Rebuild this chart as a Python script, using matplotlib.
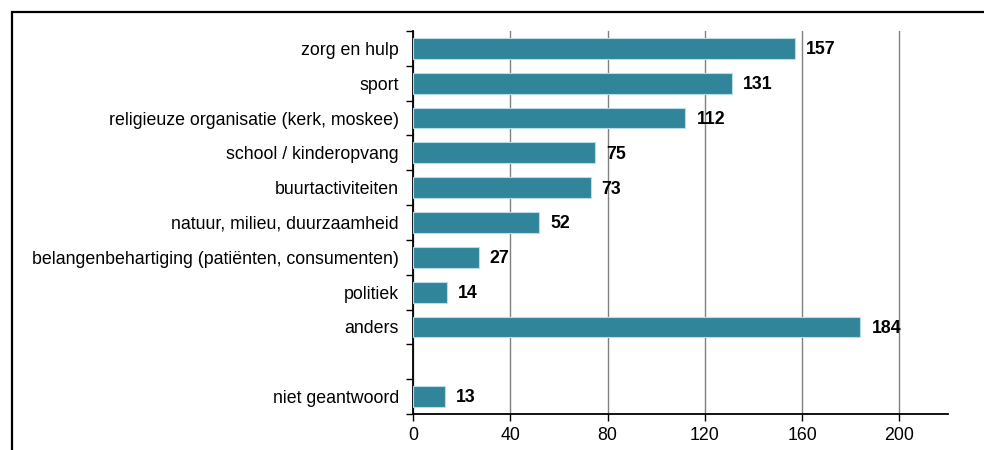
import numpy as np
import matplotlib
matplotlib.use("Agg")
import matplotlib.pyplot as plt
import matplotlib.patches as mpatches

plt.rcParams['font.family'] = ['Liberation Sans', 'DejaVu Sans']

categories = [
    "zorg en hulp",
    "sport",
    "religieuze organisatie (kerk, moskee)",
    "school / kinderopvang",
    "buurtactiviteiten",
    "natuur, milieu, duurzaamheid",
    "belangenbehartiging (patiënten, consumenten)",
    "politiek",
    "anders",
    "",
    "niet geantwoord",
]
values = [157, 131, 112, 75, 73, 52, 27, 14, 184, np.nan, 13]
x_ticks = [0, 40, 80, 120, 160, 200]

bar_color = '#31859b'
edge_color = '#b9dde6'
fs = 12.8

fig = plt.figure(figsize=(9.84, 4.5), dpi=100)
ax = fig.add_axes([413 / 984, 1 - 414 / 450, (948 - 413) / 984, (414 - 31) / 450])

y = np.arange(len(categories))
ax.barh(y, values, height=0.6, color=bar_color, edgecolor=edge_color, linewidth=0.8, zorder=3)

# value labels
for yi, v in zip(y, values):
    if np.isnan(v):
        continue
    ax.annotate(str(int(v)), (v, yi), xytext=(8, -1), textcoords='offset points',
                va='center', ha='left', fontsize=fs, fontweight='bold', zorder=4)

ax.set_xlim(0, 220)
ax.set_ylim(len(categories) - 0.5, -0.5)

ax.set_yticks(y)
ax.set_yticklabels(categories, fontsize=fs)
ax.tick_params(axis='y', which='major', length=0, pad=10)
ax.set_yticks(np.arange(-0.5, len(categories)), minor=True)
ax.tick_params(axis='y', which='minor', length=5, width=1, direction='out')

ax.set_xticks(x_ticks)
ax.set_xticklabels([str(t) for t in x_ticks], fontsize=fs)
ax.tick_params(axis='x', length=5, width=1, direction='out', pad=4)

ax.grid(axis='x', color='#808080', linewidth=1, zorder=0)
ax.set_axisbelow(True)

for s in ['top', 'right']:
    ax.spines[s].set_visible(False)
for s in ['left', 'bottom']:
    ax.spines[s].set_linewidth(1.3)
    ax.spines[s].set_color('black')

# outer frame, partly cut off at the right and bottom
frame = mpatches.Rectangle((11.5 / 984, -0.2), 1.2, 1 - 11.5 / 450 + 0.2,
                           transform=fig.transFigure, fill=False,
                           edgecolor='black', linewidth=1.6)
fig.patches.append(frame)

fig.savefig("out.png", dpi=100)
